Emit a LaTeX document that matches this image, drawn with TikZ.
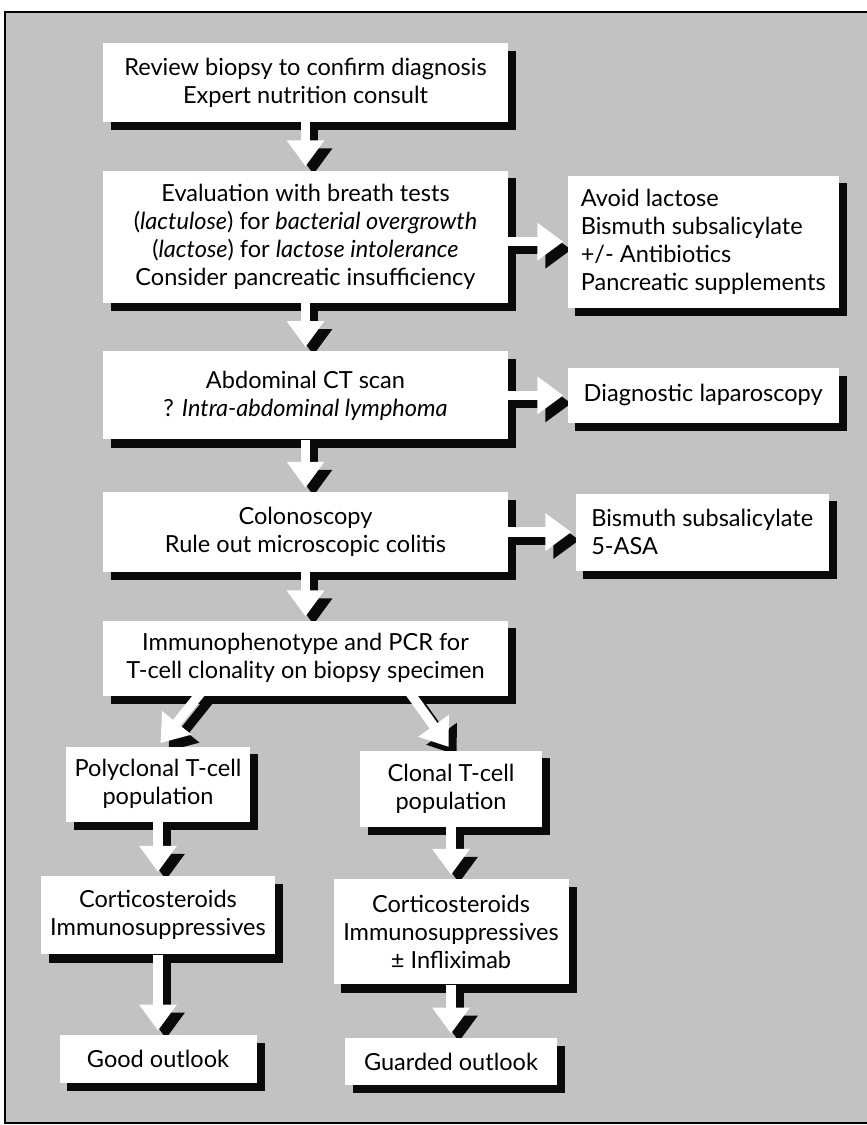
\documentclass[tikz,border=0pt]{standalone}
\usepackage{fontspec}
\setmainfont{Lato}
\usepackage{tikz}
\usetikzlibrary{
  positioning,
  arrows.meta,
  calc,
  backgrounds
}
\definecolor{PanelGray}{RGB}{194,194,194}
\definecolor{ShadowBlack}{RGB}{10,10,10}

\begin{document}
\begin{tikzpicture}[
  font=\fontsize{13.4}{15.9}\selectfont,
  box/.style={fill=white, align=center},
  mainbox/.style={box, minimum width=8.1cm},
  sidebox/.style={box, align=left},
  lowbox/.style={box},
  arr/.style={
    white,
    line width=0.19cm,
    shorten >=0.08cm,
    -{Triangle[width=0.72cm, length=0.52cm]},
  },
  arrsh/.style={arr, ShadowBlack, transform canvas={shift={(0.16,-0.16)}}},
  shade/.style={fill=ShadowBlack},
]
  \useasboundingbox (0,0) rectangle (17.32,-22.5);

  \node[mainbox, minimum height=1.58cm] (Rev) at (6.11,-1.65) {%
    Review biopsy to confirm diagnosis\\
    Expert nutrition consult
  };
  \node[mainbox, minimum height=2.64cm, below=0.96cm of Rev] (Eval) {%
    Evaluation with breath tests\\
    (\textit{lactulose}) for \textit{bacterial overgrowth}\\
    (\textit{lactose}) for \textit{lactose intolerance}\\
    Consider pancreatic insufficiency
  };
  \node[mainbox, minimum height=1.76cm, below=0.96cm of Eval] (CT) {%
    Abdominal CT scan\\
    ? \textit{Intra-abdominal lymphoma}
  };
  \node[mainbox, minimum height=1.6cm, below=1.04cm of CT] (Col) {%
    Colonoscopy\\
    Rule out microscopic colitis
  };
  \node[mainbox, minimum height=1.5cm, below=0.96cm of Col] (Imm) {%
    Immunophenotype and PCR for\\
    T-cell clonality on biopsy specimen
  };

  \node[sidebox, minimum width=5.42cm, minimum height=2.64cm,
        right=1.18cm of Eval, yshift=-0.1cm] (Lact) {%
    Avoid lactose\\
    Bismuth subsalicylate\\
    +/- Antibiotics\\
    Pancreatic supplements
  };
  \node[sidebox, minimum width=5.42cm, minimum height=1.1cm,
        right=1.18cm of CT] (Lap) {Diagnostic laparoscopy};
  \node[sidebox, minimum width=5.06cm, minimum height=1.54cm,
        right=1.34cm of Col] (Bis) {%
    Bismuth subsalicylate\\
    5-ASA
  };

  \node[lowbox, minimum width=3.68cm, minimum height=1.5cm,
        below=1cm of Imm.south, xshift=-2.95cm] (Poly) {%
    Polyclonal T-cell\\
    population
  };
  \node[lowbox, minimum width=3.64cm, minimum height=1.52cm,
        below=1.08cm of Imm.south, xshift=2.91cm] (Clon) {%
    Clonal T-cell\\
    population
  };
  \node[lowbox, minimum width=4.68cm, minimum height=1.56cm,
        below=1.08cm of Poly] (SteL) {%
    Corticosteroids\\
    Immunosuppressives
  };
  \node[lowbox, minimum width=4.7cm, minimum height=2.1cm,
        below=1.04cm of Clon] (SteR) {%
    Corticosteroids\\
    Immunosuppressives\\
    ± Infliximab
  };
  \node[lowbox, minimum width=3.94cm, minimum height=0.96cm,
        below=1.6cm of SteL] (Good) {Good outlook};
  \node[lowbox, minimum width=4.24cm, minimum height=0.94cm,
        below=1.06cm of SteR] (Guard) {Guarded outlook};

  \begin{scope}[on background layer]
    \draw[line width=1.2pt, fill=PanelGray] (0.1,-0.24) rectangle (17.7,-22.46);
    \foreach \n in {Rev,Eval,CT,Col,Imm,Lact,Lap,Bis,Poly,Clon,SteL,SteR,Good,Guard}
      \fill[shade] ([shift={(0.16,-0.16)}]\n.south west)
        rectangle ([shift={(0.16,-0.16)}]\n.north east);
    \foreach \a/\b in {Rev/Eval,Eval/CT,CT/Col,Col/Imm,Poly/SteL,SteL/Good,Clon/SteR,SteR/Guard} {
      \draw[arrsh] (\a) -- (\b);
      \draw[arr] (\a) -- (\b);
    }
    \foreach \a/\b in {Eval/Lact,CT/Lap,Col/Bis} {
      \draw[arrsh] (\a.east |- \b.west) -- (\b.west);
      \draw[arr] (\a.east |- \b.west) -- (\b.west);
    }
    \draw[arrsh] ($(Imm.south west)!0.25!(Imm.south east)+(0,0.15)$) -- (Poly.north);
    \draw[arr] ($(Imm.south west)!0.25!(Imm.south east)+(0,0.15)$) -- (Poly.north);
    \draw[arrsh] ($(Imm.south west)!0.75!(Imm.south east)+(0,0.15)$) -- (Clon.north);
    \draw[arr] ($(Imm.south west)!0.75!(Imm.south east)+(0,0.15)$) -- (Clon.north);
  \end{scope}
\end{tikzpicture}
\end{document}
